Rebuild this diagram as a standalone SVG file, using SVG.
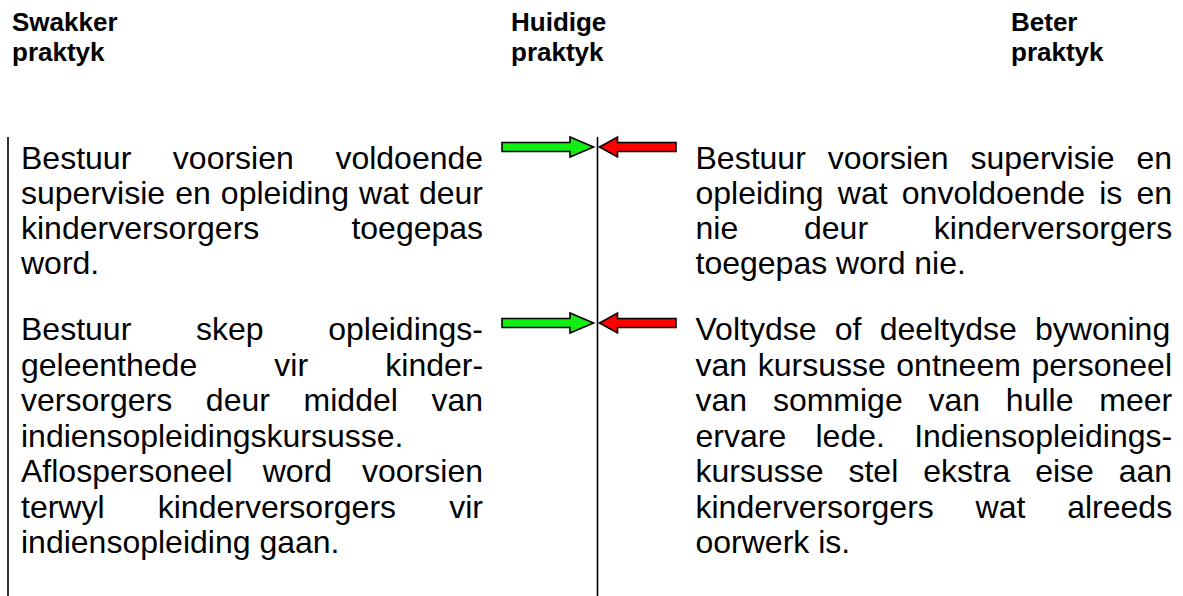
<svg xmlns="http://www.w3.org/2000/svg" width="1183" height="596" viewBox="0 0 1183 596">
<style>
.h{font-family:"Liberation Sans",Arial,sans-serif;font-weight:bold;font-size:26px;fill:#000}
.t{font-family:"Liberation Sans",Arial,sans-serif;font-size:32px;fill:#000}
.ln{stroke:#000;stroke-width:1.6;fill:none}
.g{fill:#11ee11;stroke:#000;stroke-width:1.6;stroke-linejoin:miter}
.r{fill:#ff0000;stroke:#000;stroke-width:1.6;stroke-linejoin:miter}
</style>
<defs>
<polygon id="ga" points="502,-4.5 570,-4.5 570,-10 593.5,0 570,10 570,4.5 502,4.5"/>
<polygon id="ra" points="676,-4.5 617.5,-4.5 617.5,-10 599.5,0 617.5,10 617.5,4.5 676,4.5"/>
</defs>
<rect width="1183" height="596" fill="#fff"/>
<g id="headers">
<text class="h" x="12" y="31">Swakker</text>
<text class="h" x="12" y="61">praktyk</text>
<text class="h" x="511" y="31">Huidige</text>
<text class="h" x="511" y="61">praktyk</text>
<text class="h" x="1011" y="31">Beter</text>
<text class="h" x="1011" y="61">praktyk</text>
</g>
<g id="axes">
<line class="ln" x1="8" y1="137" x2="8" y2="596"/>
<line class="ln" x1="597.5" y1="137" x2="597.5" y2="596"/>
</g>
<g id="left-1">
<text class="t" x="21" y="168.5" word-spacing="32.7">Bestuur voorsien voldoende</text>
<text class="t" x="21" y="203.7" word-spacing="1.2">supervisie en opleiding wat deur</text>
<text class="t" x="21" y="238.9" word-spacing="83.2">kinderversorgers toegepas</text>
<text class="t" x="21" y="274.1">word.</text>
</g>
<g id="left-2">
<text class="t" x="21" y="340" word-spacing="55.8">Bestuur skep opleidings-</text>
<text class="t" x="21" y="375.5" word-spacing="68.3">geleenthede vir kinder-</text>
<text class="t" x="21" y="411" word-spacing="24.8">versorgers deur middel van</text>
<text class="t" x="21" y="446.5">indiensopleidingskursusse.</text>
<text class="t" x="21" y="482" word-spacing="21.1">Aflospersoneel word voorsien</text>
<text class="t" x="21" y="517.5" word-spacing="44.3">terwyl kinderversorgers vir</text>
<text class="t" x="21" y="553">indiensopleiding gaan.</text>
</g>
<g id="right-1">
<text class="t" x="695.5" y="168.5" word-spacing="13">Bestuur voorsien supervisie en</text>
<text class="t" x="695.5" y="203.7" word-spacing="5.3">opleiding wat onvoldoende is en</text>
<text class="t" x="695.5" y="238.9" word-spacing="56.9">nie deur kinderversorgers</text>
<text class="t" x="695.5" y="274.1">toegepas word nie.</text>
</g>
<g id="right-2">
<text class="t" x="695.5" y="340" word-spacing="9.4">Voltydse of deeltydse bywoning</text>
<text class="t" x="695.5" y="375.5" word-spacing="1.7">van kursusse ontneem personeel</text>
<text class="t" x="695.5" y="411" word-spacing="16.9">van sommige van hulle meer</text>
<text class="t" x="695.5" y="446.5" word-spacing="20.4">ervare lede. Indiensopleidings-</text>
<text class="t" x="695.5" y="482" word-spacing="16">kursusse stel ekstra eise aan</text>
<text class="t" x="695.5" y="517.5" word-spacing="32.9">kinderversorgers wat alreeds</text>
<text class="t" x="695.5" y="553">oorwerk is.</text>
</g>
<g id="connectors">
<use href="#ga" class="g" transform="translate(0,147)"/>
<use href="#ra" class="r" transform="translate(0,147)"/>
<use href="#ga" class="g" transform="translate(0,323)"/>
<use href="#ra" class="r" transform="translate(0,323)"/>
</g>
</svg>
